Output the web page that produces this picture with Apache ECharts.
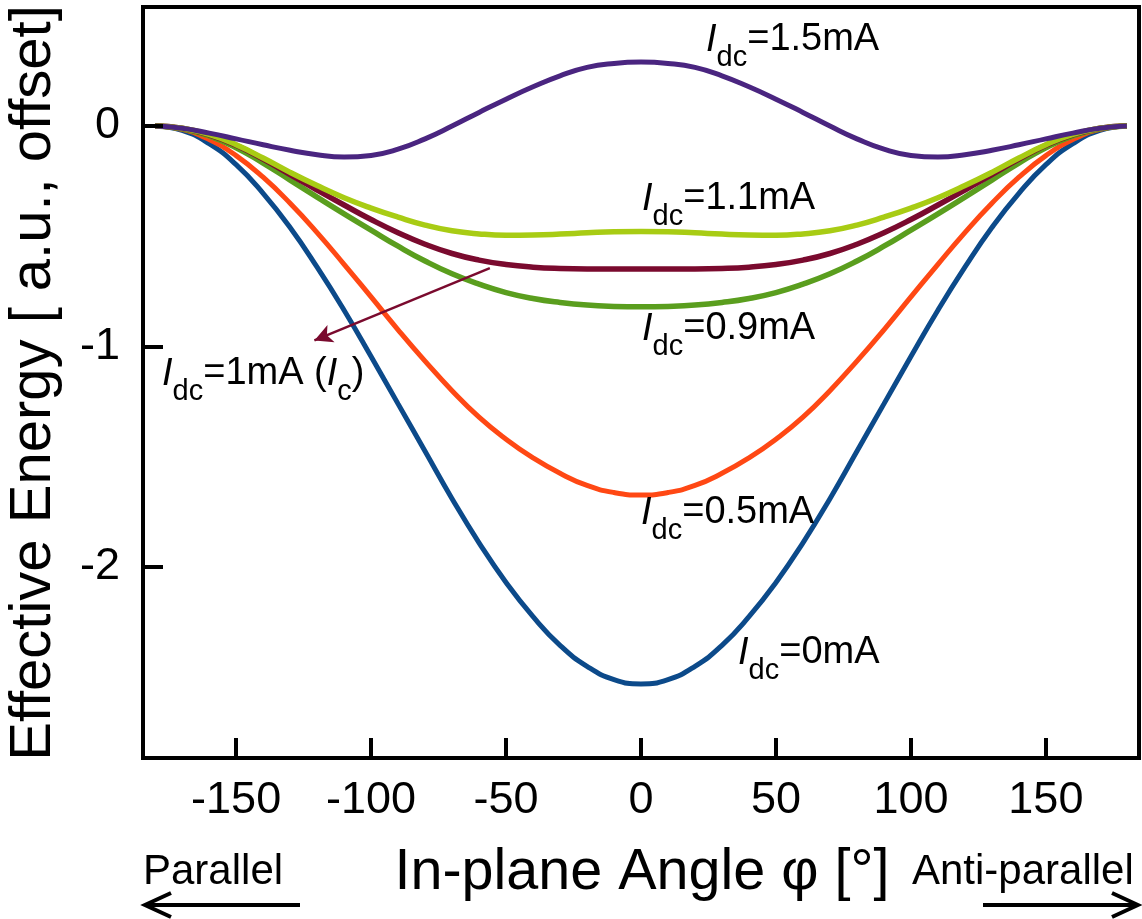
<!DOCTYPE html>
<html><head><meta charset="utf-8">
<script src="https://cdn.jsdelivr.net/npm/echarts@6/dist/echarts.min.js"></script>
<style>html,body{margin:0;padding:0;background:#fff}#c{width:1142px;height:919px}</style>
</head><body><div id="c"></div>
<script>
// ---- data ----
const angles = [-180,-170,-160,-150,-140,-130,-120,-110,-100,-90,-80,-70,-60,-50,-40,-30,-20,-10,0,10,20,30,40,50,60,70,80,90,100,110,120,130,140,150,160,170,180];
const e0mA  = [0,-0.02,-0.08,-0.175,-0.305,-0.46,-0.64,-0.835,-1.045,-1.26,-1.475,-1.69,-1.89,-2.07,-2.225,-2.355,-2.45,-2.51,-2.53,-2.51,-2.45,-2.355,-2.225,-2.07,-1.89,-1.69,-1.475,-1.26,-1.045,-0.835,-0.64,-0.46,-0.305,-0.175,-0.08,-0.02,0];
const e05mA = [0,-0.015,-0.061,-0.134,-0.232,-0.35,-0.483,-0.627,-0.775,-0.924,-1.066,-1.2,-1.32,-1.42,-1.505,-1.575,-1.63,-1.662,-1.673,-1.662,-1.63,-1.575,-1.505,-1.42,-1.32,-1.2,-1.066,-0.924,-0.775,-0.627,-0.483,-0.35,-0.232,-0.134,-0.061,-0.015,0];
const e09mA = [0,-0.012,-0.045,-0.098,-0.168,-0.245,-0.322,-0.398,-0.472,-0.545,-0.612,-0.67,-0.717,-0.755,-0.782,-0.80,-0.812,-0.818,-0.82,-0.818,-0.812,-0.80,-0.782,-0.755,-0.717,-0.67,-0.612,-0.545,-0.472,-0.398,-0.322,-0.245,-0.168,-0.098,-0.045,-0.012,0];
const e1mA  = [0,-0.01,-0.04,-0.087,-0.15,-0.22,-0.29,-0.358,-0.424,-0.484,-0.536,-0.578,-0.608,-0.628,-0.64,-0.646,-0.648,-0.648,-0.648,-0.648,-0.648,-0.646,-0.64,-0.628,-0.608,-0.578,-0.536,-0.484,-0.424,-0.358,-0.29,-0.22,-0.15,-0.087,-0.04,-0.01,0];
const e11mA = [0,-0.01,-0.038,-0.085,-0.145,-0.21,-0.27,-0.325,-0.372,-0.413,-0.449,-0.475,-0.489,-0.495,-0.494,-0.49,-0.484,-0.479,-0.478,-0.479,-0.484,-0.49,-0.494,-0.495,-0.489,-0.475,-0.449,-0.413,-0.372,-0.325,-0.27,-0.21,-0.145,-0.085,-0.038,-0.01,0];
const e15mA = [0,-0.01,-0.032,-0.058,-0.085,-0.11,-0.13,-0.14,-0.133,-0.105,-0.058,0.0,0.062,0.122,0.178,0.228,0.266,0.284,0.29,0.284,0.266,0.228,0.178,0.122,0.062,0.0,-0.058,-0.105,-0.133,-0.14,-0.13,-0.11,-0.085,-0.058,-0.032,-0.01,0];
const xTicks = [-150,-100,-50,0,50,100,150];
const yTicks = [-2,-1,0];
const arrowFrom = [-56, -0.644];
const arrowTo = [-121, -0.972];

const FF = '"Liberation Sans", Arial, sans-serif';
const pairs = v => angles.map((a,i)=>[a,v[i]]);

const seriesDef = [
  {name:'0mA', data:e0mA, color:'#0c4a8a', w:5},
  {name:'0.5mA', data:e05mA, color:'#ff4814', w:5},
  {name:'0.9mA', data:e09mA, color:'#5a9e1e', w:5.5},
  {name:'1mA', data:e1mA, color:'#7a0a2e', w:5.5},
  {name:'1.1mA', data:e11mA, color:'#a8cc14', w:5.5},
  {name:'1.5mA', data:e15mA, color:'#4a2580', w:5}
];

const meas = document.createElement('canvas').getContext('2d');
function label(x, yMid, pieces) {
  const out = [];
  let cx = x;
  for (const p of pieces) {
    const size = p.s || 38;
    const style = p.it ? 'italic' : 'normal';
    meas.font = style + ' ' + size + 'px ' + FF;
    const w = meas.measureText(p.t).width;
    out.push({type:'text', x: cx, y: yMid + (p.dy || 0), z: 50,
      style:{text:p.t, fontSize:size, fontFamily:FF, fontStyle:style, fill:'#000',
        align:'left', textAlign:'left', verticalAlign:'middle', textVerticalAlign:'middle'}});
    cx += w;
  }
  return out;
}
const I = {t:'I', it:true};
const sub = t => ({t, s:29, dy:18});
const graphics = [].concat(
  label(706, 40, [I, sub('dc'), {t:'=1.5mA'}]),
  label(642, 199, [I, sub('dc'), {t:'=1.1mA'}]),
  label(642, 329, [I, sub('dc'), {t:'=0.9mA'}]),
  label(162, 374, [I, sub('dc'), {t:'=1mA ('}, I, sub('c'), {t:')'}]),
  label(641, 513, [I, sub('dc'), {t:'=0.5mA'}]),
  label(738, 653, [I, sub('dc'), {t:'=0mA'}]),
  [
    {type:'text', x:34, y:383, rotation:Math.PI/2, z:50,
     style:{text:'Effective Energy [ a.u., offset]', fontSize:58, fontFamily:FF, fill:'#000',
       align:'center', textAlign:'center', verticalAlign:'middle', textVerticalAlign:'middle'}},
    {type:'text', x:642, y:873, z:50,
     style:{text:'In-plane Angle φ [°]', fontSize:57.5, fontFamily:FF, fill:'#000',
       align:'center', textAlign:'center', verticalAlign:'middle', textVerticalAlign:'middle'}},
    {type:'text', x:143, y:872, z:50,
     style:{text:'Parallel', fontSize:42, fontFamily:FF, fill:'#000',
       align:'left', textAlign:'left', verticalAlign:'middle', textVerticalAlign:'middle'}},
    {type:'text', x:912, y:872, z:50,
     style:{text:'Anti-parallel', fontSize:42, fontFamily:FF, fill:'#000',
       align:'left', textAlign:'left', verticalAlign:'middle', textVerticalAlign:'middle'}},
    {type:'line', z:50, shape:{x1:300,y1:905,x2:147,y2:905}, style:{stroke:'#000', lineWidth:4}},
    {type:'polyline', z:50, shape:{points:[[171,893],[145,905],[171,917]]}, style:{stroke:'#000', lineWidth:4, fill:null}},
    {type:'line', z:50, shape:{x1:983,y1:905,x2:1136,y2:905}, style:{stroke:'#000', lineWidth:4}},
    {type:'polyline', z:50, shape:{points:[[1112,893],[1138,905],[1112,917]]}, style:{stroke:'#000', lineWidth:4, fill:null}}
  ]
);

const chart = echarts.init(document.getElementById('c'), null, {renderer:'canvas'});
chart.setOption({
  backgroundColor:'#fff',
  animation:false,
  grid:{left:143, right:3, top:7, bottom:161, show:true, borderColor:'#000', borderWidth:4, backgroundColor:'transparent'},
  xAxis:{type:'value', min:-184.5, max:184.5, z:5,
    axisLine:{show:false, onZero:false},
    splitLine:{show:false},
    axisTick:{show:true, inside:true, length:20, lineStyle:{color:'#000', width:4}, customValues:xTicks},
    axisLabel:{show:true, margin:20, fontSize:45, fontFamily:FF, color:'#000', customValues:xTicks}
  },
  yAxis:{type:'value', min:-2.866, max:0.54, z:5,
    axisLine:{show:false, onZero:false},
    splitLine:{show:false},
    axisTick:{show:true, inside:true, length:20, lineStyle:{color:'#000', width:4}, customValues:yTicks},
    axisLabel:{show:true, margin:23, fontSize:45, fontFamily:FF, color:'#000', customValues:yTicks}
  },
  graphic:graphics,
  series: seriesDef.map(s => {
    const o = {type:'line', name:s.name, data:pairs(s.data), smooth:true, showSymbol:false, symbol:'none',
      lineStyle:{color:s.color, width:s.w}, itemStyle:{color:s.color}, z:2};
    if (s.name === '1mA') {
      o.markLine = {silent:true, symbol:['none','arrow'], symbolSize:[14,18], animation:false,
        lineStyle:{color:'#7a0a2e', width:2.5, type:'solid'}, label:{show:false},
        data:[[{coord:arrowFrom},{coord:arrowTo}]]};
    }
    return o;
  })
});
</script></body></html>
